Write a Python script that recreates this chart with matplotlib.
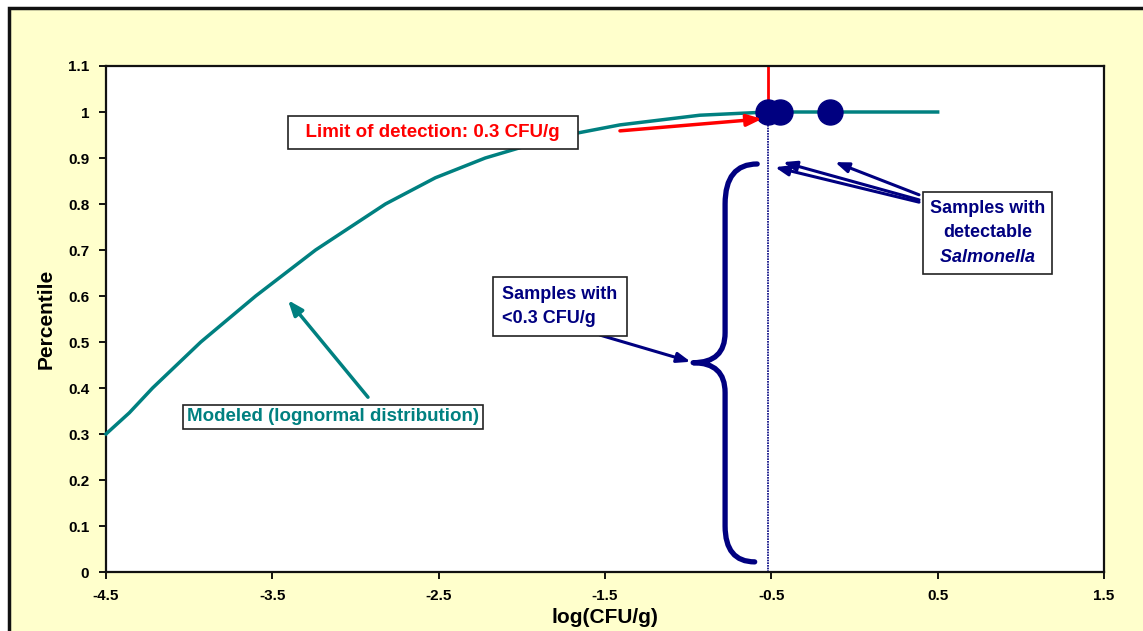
import numpy as np
import matplotlib.pyplot as plt
from matplotlib.patches import Rectangle, PathPatch
from matplotlib.path import Path

plt.rcParams['font.family'] = ['Liberation Sans', 'DejaVu Sans']
plt.rcParams['mathtext.fontset'] = 'custom'
plt.rcParams['mathtext.it'] = 'Liberation Sans:italic:bold'
plt.rcParams['mathtext.rm'] = 'Liberation Sans:bold'

# Colours
teal = '#008080'
navy = '#000080'
red = '#ff0000'
bg_yellow = '#ffffcc'

# Modeled lognormal curve
model_x = [-4.5, -4.36, -4.22, -3.93, -3.6, -3.24, -2.82, -2.52, -2.22, -1.8, -1.41, -0.93, -0.52, 0.5]
model_y = [0.30, 0.346, 0.40, 0.50, 0.60, 0.70, 0.80, 0.857, 0.90, 0.945, 0.972, 0.993, 1.0, 1.0]

# Samples with detectable Salmonella
sample_x = [-0.52, -0.445, -0.146]
sample_y = [1.0, 1.0, 1.0]

# Limit of detection: 0.3 CFU/g
lod = np.log10(0.3)

xticks = [-4.5, -3.5, -2.5, -1.5, -0.5, 0.5, 1.5]
xtick_labels = ['-4.5', '-3.5', '-2.5', '-1.5', '-0.5', '0.5', '1.5']
yticks = [0, 0.1, 0.2, 0.3, 0.4, 0.5, 0.6, 0.7, 0.8, 0.9, 1.0, 1.1]
ytick_labels = ['0', '0.1', '0.2', '0.3', '0.4', '0.5', '0.6', '0.7', '0.8', '0.9', '1', '1.1']

fig = plt.figure(figsize=(11.43, 6.31), dpi=100)
fig.patch.set_facecolor('white')
# yellow chart area with a dark frame at the top/left
fig.patches.append(Rectangle((9 / 1143, -0.1), 1.2, 1.1 - 8 / 631,
                             transform=fig.transFigure, facecolor=bg_yellow,
                             edgecolor='#111111', linewidth=2.5, zorder=-5))

ax = fig.add_axes([106 / 1143, 1 - 572 / 631, 998 / 1143, 506 / 631])
ax.set_zorder(2)
ax.set_facecolor('white')
ax.set_xlim(-4.5, 1.5)
ax.set_ylim(0, 1.1)
for s in ax.spines.values():
    s.set_linewidth(1.6)
    s.set_color('#111111')
ax.set_xticks(xticks)
ax.set_xticklabels(xtick_labels)
ax.set_yticks(yticks)
ax.set_yticklabels(ytick_labels)
ax.tick_params(direction='out', length=5, width=1.3, labelsize=11, pad=7)
for lab in ax.get_xticklabels() + ax.get_yticklabels():
    lab.set_fontweight('bold')
ax.set_xlabel('log(CFU/g)', fontsize=15, fontweight='bold', va='center')
ax.xaxis.set_label_coords(0.5, -0.09)
ax.set_ylabel('Percentile', fontsize=15, fontweight='bold', va='center')
ax.yaxis.set_label_coords(-0.06, 0.5)

# model curve
ax.plot(model_x, model_y, color=teal, linewidth=2.5, zorder=3, clip_on=False)

# limit of detection line: red above, dotted navy below
ax.plot([lod, lod], [0.99, 1.1], color=red, linewidth=2, zorder=2, clip_on=False)
ax.plot([lod, lod], [0.0, 0.99], color=navy, linewidth=1.2, linestyle=(0, (1, 0.6)), zorder=2)

# detected samples
ax.plot(sample_x, sample_y, 'o', color=navy, markersize=18, zorder=4, linestyle='none')

box_style = dict(boxstyle='square', facecolor='white', edgecolor='#222222', lw=1.2)


def arrow(head, tail, color, lw, hl=0.8, hw=0.3):
    ax.annotate('', xy=head, xytext=tail,
                arrowprops=dict(arrowstyle=f'-|>,head_length={hl},head_width={hw}',
                                color=color, lw=lw, shrinkA=0, shrinkB=0), zorder=5)


# red arrow to limit of detection
arrow((-0.556, 0.985), (-1.41, 0.959), red, 2.5, 0.9, 0.35)
ax.text(-2.534, 0.955, '  Limit of detection: 0.3 CFU/g  ', color=red, fontsize=13.5,
        fontweight='bold', ha='center', va='center',
        bbox=dict(box_style, boxstyle='square,pad=0.42'), zorder=6)

# arrows to detected samples
for head, tail in [((-0.478, 0.880), (0.388, 0.804)),
                   ((-0.43, 0.891), (0.388, 0.809)),
                   ((-0.117, 0.891), (0.388, 0.820))]:
    arrow(head, tail, navy, 2.2)
ax.text(0.80, 0.737, 'Samples with\ndetectable\n$\\mathit{Salmonella}$', color=navy,
        fontsize=13, fontweight='bold', ha='center', va='center', linespacing=1.6,
        bbox=dict(box_style, boxstyle='square,pad=0.4'), zorder=6)

# curly brace for samples below detection
brace = Path([(-0.585, 0.887),
              (-0.778, 0.887), (-0.778, 0.80),
              (-0.778, 0.52),
              (-0.778, 0.455), (-0.97, 0.455),
              (-0.778, 0.455), (-0.778, 0.39),
              (-0.778, 0.10),
              (-0.778, 0.022), (-0.60, 0.022)],
             [Path.MOVETO,
              Path.CURVE3, Path.CURVE3,
              Path.LINETO,
              Path.CURVE3, Path.CURVE3,
              Path.CURVE3, Path.CURVE3,
              Path.LINETO,
              Path.CURVE3, Path.CURVE3])
ax.add_patch(PathPatch(brace, facecolor='none', edgecolor=navy, lw=3.8,
                       capstyle='round', joinstyle='round', zorder=4))
arrow((-0.985, 0.457), (-1.53, 0.515), navy, 2.2)
ax.text(-1.77, 0.577, 'Samples with\n<0.3 CFU/g', color=navy, fontsize=13,
        fontweight='bold', ha='center', va='center', multialignment='left',
        linespacing=1.5, bbox=dict(box_style, boxstyle='square,pad=0.5'), zorder=6)

# modeled curve label
arrow((-3.406, 0.591), (-2.925, 0.38), teal, 2.5, 0.9, 0.35)
ax.text(-3.135, 0.337, 'Modeled (lognormal distribution)', color=teal, fontsize=13.5,
        fontweight='bold', ha='center', va='center',
        bbox=dict(box_style, boxstyle='square,pad=0.2'), zorder=6)

fig.savefig('out.png', dpi=100, facecolor=fig.get_facecolor())
